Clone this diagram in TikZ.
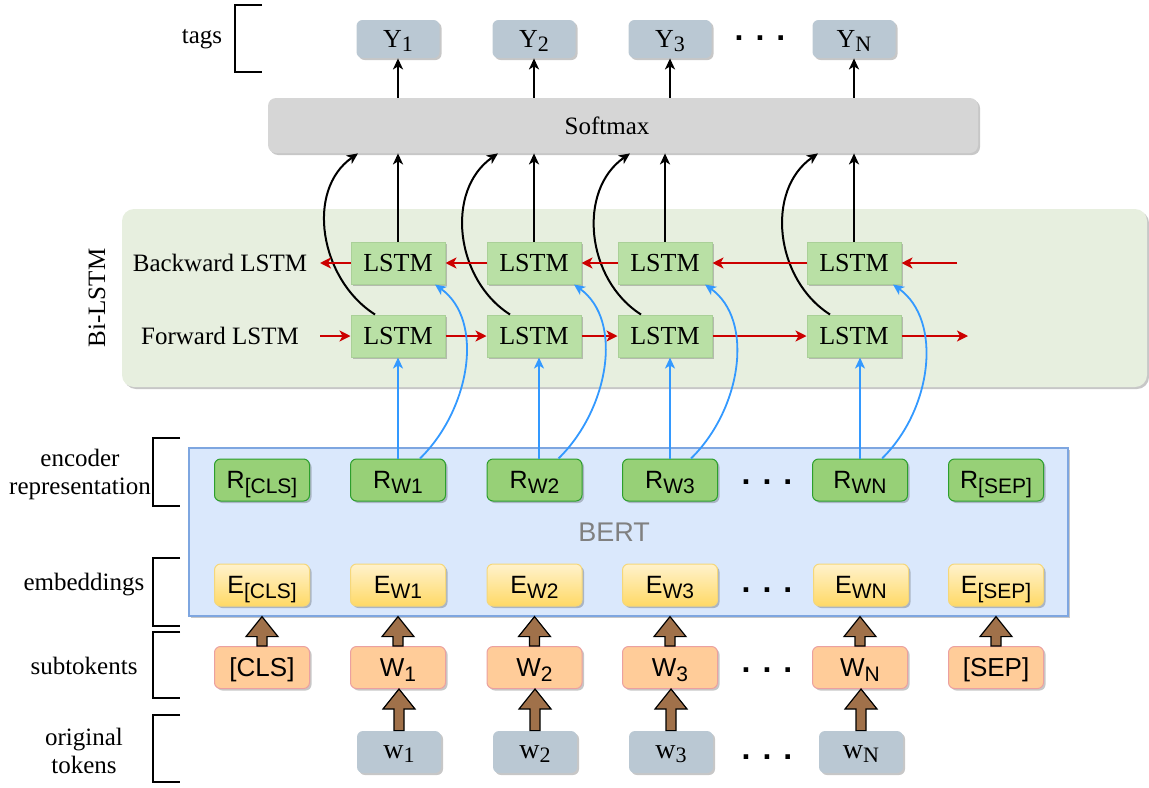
\documentclass[tikz,border=0pt]{standalone}
\usepackage{fontspec}
\setmainfont{Liberation Serif}
\setsansfont{Liberation Sans}
\usetikzlibrary{arrows.meta,shadows,calc}
\definecolor{tokgray}{HTML}{BAC8D3}
\definecolor{smgray}{HTML}{D6D6D6}
\definecolor{panelgreen}{HTML}{E7EFDF}
\definecolor{lstmgreen}{HTML}{B9E0A5}
\definecolor{lstmborder}{HTML}{AAD098}
\definecolor{rgreen}{HTML}{97D077}
\definecolor{rborder}{HTML}{2D9E2D}
\definecolor{eyellowA}{HTML}{FFF2CC}
\definecolor{eyellowB}{HTML}{FFD966}
\definecolor{eborder}{HTML}{F5D77A}
\definecolor{peach}{HTML}{FFCC99}
\definecolor{peachborder}{HTML}{EBA0A0}
\definecolor{bertfill}{HTML}{DAE8FC}
\definecolor{bertborder}{HTML}{7EA6E0}
\definecolor{arrbrown}{HTML}{A0714A}
\definecolor{arrblue}{HTML}{3399FF}
\definecolor{arrred}{HTML}{CC0000}
\newcommand\ssub[1]{\raisebox{-2.5pt}{\fontsize{10.5}{12}\selectfont #1}}
\newcommand\rsub[1]{\raisebox{-1.8pt}{\fontsize{11}{12}\selectfont #1}}
\newcommand\brownup[2]{\draw[brownarrow] let \p1=(#1), \p2=(#2) in
  (\x1-2.5pt,\y1) -- (\x1-2.5pt,\y2-10pt) -- (\x1-8pt,\y2-10pt) -- (\x1,\y2)
  -- (\x1+8pt,\y2-10pt) -- (\x1+2.5pt,\y2-10pt) -- (\x1+2.5pt,\y1) -- cycle;}
\begin{document}
\begin{tikzpicture}[x=0.5pt,y=-0.5pt,
  sh/.style={drop shadow={shadow xshift=1pt,shadow yshift=-1pt,fill=black,opacity=0.22}},
  lab/.style={font=\fontsize{12.5}{14}\selectfont, inner sep=0pt},
  box/.style={rounded corners=3pt, inner sep=0pt, text height=8.5pt, text depth=0pt, sh},
  tagbox/.style={box, fill=tokgray, minimum width=41.5pt, minimum height=19pt, font=\fontsize{13}{14}\selectfont},
  origbox/.style={box, fill=tokgray, minimum width=42pt, minimum height=21pt, font=\fontsize{14}{14}\selectfont, text height=6.5pt},
  lstmbox/.style={inner sep=0pt, fill=lstmgreen, draw=lstmborder, line width=0.5pt, minimum width=47pt, minimum height=21pt, font=\fontsize{13}{14}\selectfont, sh},
  rbox/.style={box, fill=rgreen, draw=rborder, line width=0.5pt, minimum width=47.5pt, minimum height=21pt, font=\sffamily\fontsize{12.5}{14}\selectfont},
  ebox/.style={box, top color=eyellowA, bottom color=eyellowB, draw=eborder, line width=0.5pt, minimum width=47.5pt, minimum height=21pt, font=\sffamily\fontsize{12.5}{14}\selectfont},
  sbox/.style={box, fill=peach, draw=peachborder, line width=0.5pt, minimum width=47.5pt, minimum height=21pt, font=\sffamily\fontsize{13}{14}\selectfont},
  dotsnode/.style={inner sep=0pt, font=\sffamily\bfseries\fontsize{16}{16}\selectfont},
  bracket/.style={draw=black, line width=1pt},
  blk/.style={draw=black, line width=1pt, -{Stealth[length=5.5pt,width=5pt,inset=1.5pt]}},
  redarr/.style={draw=arrred, line width=1pt, -{Stealth[length=5.5pt,width=5.5pt,inset=1.5pt]}},
  bluearr/.style={draw=arrblue, line width=0.9pt, -{Stealth[length=5.5pt,width=5pt,inset=1.5pt]}},
  brownarrow/.style={fill=arrbrown, draw=black, line width=0.6pt}
]
\useasboundingbox (0,0) rectangle (1149,787);

% panels
\node[rounded corners=6pt, fill=panelgreen, minimum width=512.5pt, minimum height=89pt, inner sep=0pt, sh] (panel) at (634.5,298) {};
\node[fill=bertfill, draw=bertborder, line width=0.6pt, minimum width=439.5pt, minimum height=84pt, inner sep=0pt, sh,
      font=\sffamily\fontsize{13.5}{15}\selectfont, text=black!50] (bert) at (628.5,532) {BERT\hspace*{14.5pt}};

% left labels and brackets
\node[lab] (ltags) at (202,39) {tags};
\draw[bracket] (262,5) -- (235,5) -- (235,72) -- (262,72);
\node[lab, rotate=90] (lbi) at (97,298) {Bi-LSTM};
\node[lab] (lbw) at (220,263) {Backward LSTM};
\node[lab] (lfw) at (220,336) {Forward LSTM};
\node[lab, align=center] (lenc) at (80,474) {encoder\\representation};
\draw[bracket] (180,438) -- (153,438) -- (153,506) -- (180,506);
\node[lab] (lemb) at (84,585) {embeddings};
\draw[bracket] (180,558) -- (153,558) -- (153,626) -- (180,626);
\node[lab] (lsub) at (84,666) {subtokents};
\draw[bracket] (180,632) -- (153,632) -- (153,698) -- (180,698);
\node[lab, align=center] (lorig) at (84,751) {original\\tokens};
\draw[bracket] (180,715) -- (153,715) -- (153,782) -- (180,782);

% tags
\node[tagbox] (y1) at (398,39) {Y\rsub{1}};
\node[tagbox] (y2) at (534,39) {Y\rsub{2}};
\node[tagbox] (y3) at (670,39) {Y\rsub{3}};
\node[tagbox] (yn) at (854,39) {Y\rsub{N}};
\node[dotsnode] (dy) at (760,38) {.\hspace{6pt}.\hspace{6pt}.};

% softmax
\node[rounded corners=4pt, fill=smgray, minimum width=355pt, minimum height=27.5pt, inner sep=0pt, sh,
      font=\fontsize{12.5}{14}\selectfont] (sm) at (623,125.5) {Softmax\hspace*{16pt}};

% LSTMs
\node[lstmbox] (bl1) at (398,263) {LSTM};
\node[lstmbox] (bl2) at (534,263) {LSTM};
\node[lstmbox] (bl3) at (665,263) {LSTM};
\node[lstmbox] (bln) at (854,263) {LSTM};
\node[lstmbox] (fl1) at (398,336) {LSTM};
\node[lstmbox] (fl2) at (534,336) {LSTM};
\node[lstmbox] (fl3) at (665,336) {LSTM};
\node[lstmbox] (fln) at (854,336) {LSTM};
\coordinate (bout) at (320,263);
\coordinate (bin) at (957,263);
\coordinate (fin) at (320,336);
\coordinate (fout) at (968,336);

% encoder representation
\node[rbox] (r0) at (262,480) {R\ssub{[CLS]}};
\node[rbox] (r1) at (398,480) {R\ssub{W1}};
\node[rbox] (r2) at (534.5,480) {R\ssub{W2}};
\node[rbox] (r3) at (670,480) {R\ssub{W3}};
\node[rbox] (rn) at (860,480) {R\ssub{WN}};
\node[rbox] (rs) at (996,480) {R\ssub{[SEP]}};
\node[dotsnode] (dr) at (767,482) {.\hspace{6pt}.\hspace{6pt}.};

% embeddings
\node[ebox] (e0) at (262,585) {E\ssub{[CLS]}};
\node[ebox] (e1) at (398,585) {E\ssub{W1}};
\node[ebox] (e2) at (534.5,585) {E\ssub{W2}};
\node[ebox] (e3) at (670,585) {E\ssub{W3}};
\node[ebox] (en) at (861,585) {E\ssub{WN}};
\node[ebox] (es) at (996,585) {E\ssub{[SEP]}};
\node[dotsnode] (de) at (767,590) {.\hspace{6pt}.\hspace{6pt}.};

% subtokens
\node[sbox] (s0) at (262,667.5) {[CLS]};
\node[sbox] (s1) at (398,667.5) {W\ssub{1}};
\node[sbox] (s2) at (534.5,667.5) {W\ssub{2}};
\node[sbox] (s3) at (670,667.5) {W\ssub{3}};
\node[sbox] (sn) at (860,667.5) {W\ssub{N}};
\node[sbox] (ss) at (996,667.5) {[SEP]};
\node[dotsnode] (ds) at (767,670) {.\hspace{6pt}.\hspace{6pt}.};

% original tokens
\node[origbox] (o1) at (399,752) {w\rsub{1}};
\node[origbox] (o2) at (535,752) {w\rsub{2}};
\node[origbox] (o3) at (671,752) {w\rsub{3}};
\node[origbox] (on) at (861,752) {w\rsub{N}};
\node[dotsnode] (do) at (767,757) {.\hspace{6pt}.\hspace{6pt}.};

% brown block arrows
\brownup{s0.north}{s0.north |- bert.south}
\brownup{s1.north}{s1.north |- bert.south}
\brownup{s2.north}{s2.north |- bert.south}
\brownup{s3.north}{s3.north |- bert.south}
\brownup{sn.north}{sn.north |- bert.south}
\brownup{ss.north}{ss.north |- bert.south}
\brownup{o1.north}{s1.south}
\brownup{o2.north}{s2.south}
\brownup{o3.north}{s3.south}
\brownup{on.north}{sn.south}

% softmax to tags
\draw[blk] (y1.south |- sm.north) -- (y1.south);
\draw[blk] (y2.south |- sm.north) -- (y2.south);
\draw[blk] (y3.south |- sm.north) -- (y3.south);
\draw[blk] (yn.south |- sm.north) -- (yn.south);

% backward LSTM to softmax
\draw[blk] (bl1.north) -- (bl1.north |- sm.south);
\draw[blk] (bl2.north) -- (bl2.north |- sm.south);
\draw[blk] (bl3.north) -- (bl3.north |- sm.south);
\draw[blk] (bln.north) -- (bln.north |- sm.south);

% forward LSTM to softmax (curved)
\draw[blk] ($(fl1.north)+(-23,0)$) .. controls +(-55,-35) and +(-53,37) .. ($(bl1.north |- sm.south)+(-40,0)$);
\draw[blk] ($(fl2.north)+(-24,0)$) .. controls +(-55,-35) and +(-53,37) .. ($(bl2.north |- sm.south)+(-36,0)$);
\draw[blk] ($(fl3.north)+(-24,0)$) .. controls +(-55,-35) and +(-53,37) .. ($(bl3.north |- sm.south)+(-35,0)$);
\draw[blk] ($(fln.north)+(-24,0)$) .. controls +(-55,-35) and +(-53,37) .. ($(bln.north |- sm.south)+(-36,0)$);

% red recurrent arrows
\draw[redarr] (bin) -- (bln.east);
\draw[redarr] (bln.west) -- (bl3.east);
\draw[redarr] (bl3.west) -- (bl2.east);
\draw[redarr] (bl2.west) -- (bl1.east);
\draw[redarr] (bl1.west) -- (bout);
\draw[redarr] (fin) -- (fl1.west);
\draw[redarr] (fl1.east) -- (fl2.west);
\draw[redarr] (fl2.east) -- (fl3.west);
\draw[redarr] (fl3.east) -- (fln.west);
\draw[redarr] (fln.east) -- (fout);

% blue arrows from encoder representation
\draw[bluearr] (r1.north) -- (r1.north |- fl1.south);
\draw[bluearr] ($(r2.north)+(4.5,0)$) -- ($(r2.north |- fl2.south)+(4.5,0)$);
\draw[bluearr] (r3.north) -- (r3.north |- fl3.south);
\draw[bluearr] (rn.north) -- (rn.north |- fln.south);
\draw[bluearr] ($(r1.north)+(22,0)$) .. controls +(50,-49) and +(50,36) .. ($(bl1.south)+(37,0)$);
\draw[bluearr] ($(r2.north)+(24,0)$) .. controls +(50,-49) and +(50,36) .. ($(bl2.south)+(40,0)$);
\draw[bluearr] ($(r3.north)+(21,0)$) .. controls +(50,-49) and +(50,36) .. ($(bl3.south)+(40,0)$);
\draw[bluearr] ($(rn.north)+(22,0)$) .. controls +(50,-49) and +(50,36) .. ($(bln.south)+(39,0)$);
\end{tikzpicture}
\end{document}
